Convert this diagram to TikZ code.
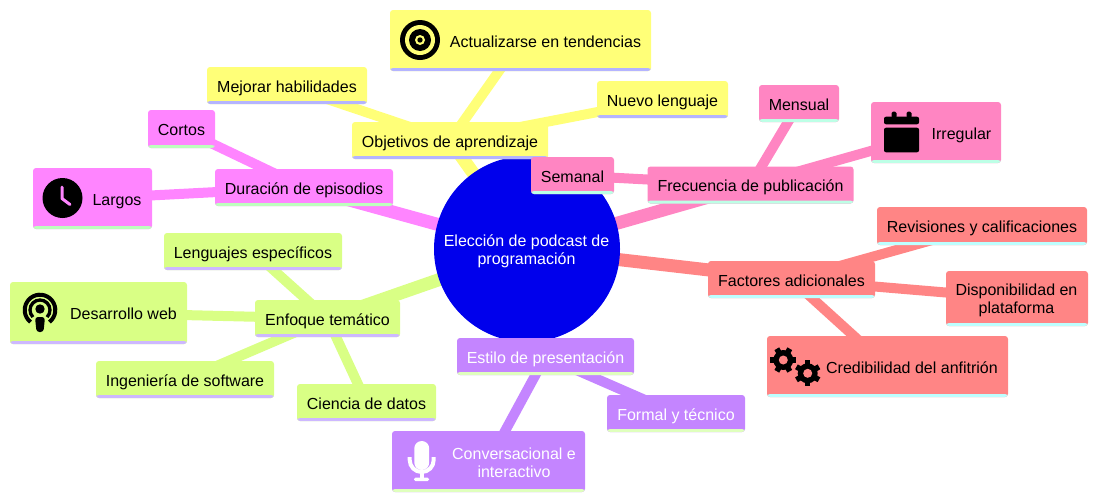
\documentclass[tikz,border=0pt]{standalone}
\usepackage{fontspec}
\setmainfont{Liberation Sans}
\usetikzlibrary{backgrounds}
\definecolor{rootblue}{HTML}{0000EC}
\definecolor{secyellow}{HTML}{FFFF78}
\definecolor{stripyellow}{HTML}{B4B4FF}
\definecolor{secmagenta}{HTML}{FF85FF}
\definecolor{stripmagenta}{HTML}{BDFFBD}
\definecolor{secgreen}{HTML}{D9FF85}
\definecolor{stripgreen}{HTML}{CDB8FF}
\definecolor{secpurple}{HTML}{C485FF}
\definecolor{strippurple}{HTML}{DFFFBD}
\definecolor{secrose}{HTML}{FF85C2}
\definecolor{striprose}{HTML}{BDFFE6}
\definecolor{secred}{HTML}{FF8585}
\definecolor{stripred}{HTML}{BDFFFF}
\tikzset{
 every node/.style={font=\fontsize{16}{18}\selectfont},
 mmbox/.style 2 args={fill=#1,rounded corners=3pt,inner sep=0pt,align=center,
  path picture={\fill[#2] (path picture bounding box.south west) rectangle ([yshift=3pt]path picture bounding box.south east);}},
 sz/.style 2 args={minimum width=#1pt,minimum height=#2pt},
 oneline/.style={text height=14pt,text depth=0.5pt},
 yellowbox/.style={mmbox={secyellow}{stripyellow}},
 magentabox/.style={mmbox={secmagenta}{stripmagenta}},
 greenbox/.style={mmbox={secgreen}{stripgreen}},
 purplebox/.style={mmbox={secpurple}{strippurple},text=white},
 rosebox/.style={mmbox={secrose}{striprose}},
 redbox/.style={mmbox={secred}{stripred}},
 lbl/.style={inner sep=0pt,align=center},
 mainedge/.style={line width=13pt},
 subedge/.style={line width=10pt}
}
\begin{document}
\begin{tikzpicture}[x=1pt,y=-1pt]
 \useasboundingbox (0,0) rectangle (1098,501);
 \node[circle,fill=rootblue,minimum size=186pt,inner sep=0pt] (root) at (527,249) {};
 \node[lbl,text=white] (roottxt) at (526.5,251.5) {Elección de podcast de\\programación};
 % yellow
 \node[yellowbox,oneline,sz={196}{37}] (objetivos) at (450,140.5) {Objetivos de aprendizaje};
 \node[yellowbox,sz={261}{61}] (actualizar) at (520.5,40.5) {};
 \node[lbl] (actualizartxt) at (545.5,42) {Actualizarse en tendencias};
 \node[yellowbox,oneline,sz={131}{37}] (nuevo) at (662.5,99.5) {Nuevo lenguaje};
 \node[yellowbox,oneline,sz={160}{37}] (mejorar) at (287,85.5) {Mejorar habilidades};
 % magenta
 \node[magentabox,oneline,sz={178}{37}] (duracion) at (304,187.5) {Duración de episodios};
 \node[magentabox,oneline,sz={67}{38}] (cortos) at (181.5,129) {Cortos};
 \node[magentabox,sz={119}{61}] (largos) at (92.5,198.5) {};
 \node[lbl] (largostxt) at (117,202) {Largos};
 % green
 \node[greenbox,oneline,sz={145}{37}] (enfoque) at (327.5,318.5) {Enfoque temático};
 \node[greenbox,oneline,sz={178}{37}] (lenguajes) at (253,251.5) {Lenguajes específicos};
 \node[greenbox,sz={177}{62}] (web) at (98.5,313) {};
 \node[lbl] (webtxt) at (123.5,314) {Desarrollo web};
 \node[greenbox,oneline,sz={178}{37}] (ingenieria) at (185,379.5) {Ingeniería de software};
 \node[greenbox,oneline,sz={139}{37}] (ciencia) at (366.5,402.5) {Ciencia de datos};
 % purple
 \node[purplebox,oneline,sz={177}{37}] (estilo) at (545.5,356.5) {Estilo de presentación};
 \node[purplebox,oneline,sz={138}{37}] (formal) at (676,413.5) {Formal y técnico};
 \node[purplebox,sz={193}{61}] (conversacional) at (488.5,461.5) {};
 \node[lbl,text=white] (conversacionaltxt) at (514,463) {Conversacional e\\interactivo};
 % rose
 \node[rosebox,oneline,sz={206}{37}] (frecuencia) at (750.5,185) {Frecuencia de publicación};
 \node[rosebox,oneline,sz={83}{37}] (semanal) at (572.5,175.5) {Semanal};
 \node[rosebox,oneline,sz={80}{37}] (mensual) at (799,103.5) {Mensual};
 \node[rosebox,sz={130}{61}] (irregular) at (936,132.5) {};
 \node[lbl] (irregulartxt) at (961.5,135) {Irregular};
 % red
 \node[redbox,oneline,sz={167}{37}] (factores) at (791.5,279.5) {Factores adicionales};
 \node[redbox,oneline,sz={210}{38}] (revisiones) at (982,226) {Revisiones y calificaciones};
 \node[redbox,sz={142}{55}] (disponibilidad) at (1017,298.5) {};
 \node[lbl] (disponibilidadtxt) at (1016.5,300) {Disponibilidad en\\plataforma};
 \node[redbox,sz={241}{61}] (credibilidad) at (887.5,366.5) {};
 \node[lbl] (credibilidadtxt) at (912,368) {Credibilidad del anfitrión};
 % connectors
 \begin{scope}[on background layer]
  \draw[mainedge,secyellow] (root.center)--(objetivos.center);
  \draw[mainedge,secmagenta] (root.center)--(duracion.center);
  \draw[mainedge,secgreen] (root.center)--(enfoque.center);
  \draw[mainedge,secpurple] (root.center)--(estilo.center);
  \draw[mainedge,secrose] (root.center)--(frecuencia.center);
  \draw[mainedge,secred] (root.center)--(factores.center);
  \foreach \kid in {actualizar,nuevo,mejorar} \draw[subedge,secyellow] (objetivos.center)--(\kid.center);
  \foreach \kid in {cortos,largos} \draw[subedge,secmagenta] (duracion.center)--(\kid.center);
  \foreach \kid in {lenguajes,web,ingenieria,ciencia} \draw[subedge,secgreen] (enfoque.center)--(\kid.center);
  \foreach \kid in {formal,conversacional} \draw[subedge,secpurple] (estilo.center)--(\kid.center);
  \foreach \kid in {semanal,mensual,irregular} \draw[subedge,secrose] (frecuencia.center)--(\kid.center);
  \foreach \kid in {revisiones,disponibilidad,credibilidad} \draw[subedge,secred] (factores.center)--(\kid.center);
 \end{scope}
 % target
 \fill (420,40) circle[radius=20pt];
 \fill[secyellow] (420,40) circle[radius=15pt];
 \fill (420,40) circle[radius=11pt];
 \fill[secyellow] (420,40) circle[radius=5pt];
 \fill (420,40) circle[radius=2.7pt];
 % clock
 \fill (62.5,198) circle[radius=20pt];
 \draw[secmagenta,line width=3pt,line cap=round,line join=round] (62,187)--(62,198.5)--(70,204.5);
 % podcast
 \fill (40,309) circle[radius=4.7pt];
 \fill[rounded corners=3pt] (35,317)--(45,317)--(43.5,332)--(36.5,332)--cycle;
 \draw[line width=4pt] (40,310) ++(-52:15.3pt) arc[start angle=-52,end angle=232,radius=15.3pt];
 \draw[line width=3.3pt] (40,310) ++(-45:10pt) arc[start angle=-45,end angle=225,radius=10pt];
 % calendar
 \fill[rounded corners=2pt] (884,124.3) rectangle (919,116.7);
 \fill[rounded corners=2pt] (884,127.7) rectangle (919,152.3);
 \fill[rounded corners=1.5pt] (891.5,111.7) rectangle (896.5,118);
 \fill[rounded corners=1.5pt] (906.5,111.7) rectangle (911.5,118);
 % microphone
 \fill[white,rounded corners=7.4pt] (414.3,441) rectangle (429.2,470);
 \draw[white,line width=4pt] (409.7,457) -- (409.7,460) arc[start angle=180,end angle=360,radius=12pt] -- (433.7,457);
 \fill[white] (419.5,472) rectangle (424,479);
 \fill[white,rounded corners=1.5pt] (414,477.7) rectangle (429,481);
 % gears
 \foreach \gx/\gy/\gr in {783.3/360/0,807.7/373.3/30} {
  \fill (\gx,\gy) circle[radius=10pt];
  \foreach \a in {0,60,...,300} \draw[line width=5.5pt] (\gx,\gy) -- ++(\a+\gr:13pt);
  \fill[secred] (\gx,\gy) circle[radius=4.5pt];
 }
\end{tikzpicture}
\end{document}
